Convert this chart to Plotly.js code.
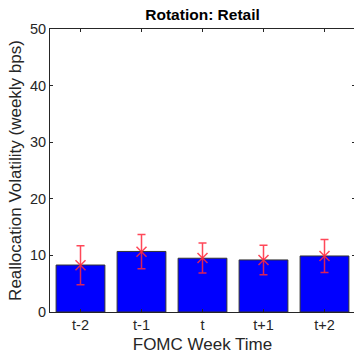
<!DOCTYPE html>
<html>
<head>
<meta charset="utf-8">
<script src="https://cdn.plot.ly/plotly-3.0.1.min.js"></script>
<style>html,body{margin:0;padding:0;overflow:hidden;background:#fff;}</style>
</head>
<body>
<div id="chart" style="width:356px;height:354px;"></div>
<script>
var categories = ["t-2", "t-1", "t", "t+1", "t+2"];
var barValues = [8.3, 10.7, 9.5, 9.2, 9.9];
var meanValues = [8.25, 10.65, 9.55, 9.2, 9.9];
var errPlus = [3.45, 3.05, 2.65, 2.6, 2.9];
var errMinus = [3.45, 3.0, 2.65, 2.6, 2.9];
var yTicks = [0, 10, 20, 30, 40, 50];

var xs = categories.map(function(c, i){ return i + 1; });

var traces = [
  {
    type: "bar",
    x: xs,
    y: barValues,
    width: 0.8,
    marker: {color: "#0000ff", line: {color: "#333333", width: 1}},
    hoverinfo: "skip"
  },
  {
    type: "scatter",
    mode: "markers",
    x: xs,
    y: meanValues,
    marker: {symbol: "x-thin-open", size: 10, color: "rgba(255,40,60,0.85)", line: {width: 1.5, color: "rgba(255,40,60,0.85)"}},
    error_y: {type: "data", symmetric: false, array: errPlus, arrayminus: errMinus, color: "rgba(255,40,60,0.85)", thickness: 1.5, width: 4}
  }
];

var fam = "Liberation Sans, Arial, sans-serif";
var axisFont = {family: fam, size: 14.5, color: "#262626"};

var layout = {
  width: 356,
  height: 354,
  margin: {l: 50, r: 1, t: 29, b: 42},
  paper_bgcolor: "#ffffff",
  plot_bgcolor: "#ffffff",
  showlegend: false,
  bargap: 0.2,
  title: {text: "<b>Rotation: Retail</b>", font: {family: fam, size: 15.5, color: "#000000"}, x: 0.569, xanchor: "center", y: 0.96, yanchor: "middle"},
  xaxis: {
    range: [0.5, 5.5],
    tickmode: "array",
    tickvals: xs,
    ticktext: categories,
    ticks: "inside",
    ticklen: 3,
    tickcolor: "#262626",
    showline: true,
    linecolor: "#262626",
    linewidth: 1,
    mirror: "ticks",
    showgrid: false,
    zeroline: false,
    tickfont: axisFont,
    title: {text: "FOMC Week Time", font: {family: fam, size: 17, color: "#262626"}, standoff: 5}
  },
  yaxis: {
    range: [0, 50],
    tickmode: "array",
    tickvals: yTicks,
    ticks: "inside",
    ticklen: 3,
    tickcolor: "#262626",
    showline: true,
    linecolor: "#262626",
    linewidth: 1,
    mirror: "ticks",
    showgrid: false,
    zeroline: false,
    tickfont: axisFont,
    title: {text: "Reallocation Volatility (weekly bps)", font: {family: fam, size: 17, color: "#262626"}, standoff: 4}
  }
};

Plotly.newPlot("chart", traces, layout, {displayModeBar: false, staticPlot: true});
</script>
</body>
</html>
